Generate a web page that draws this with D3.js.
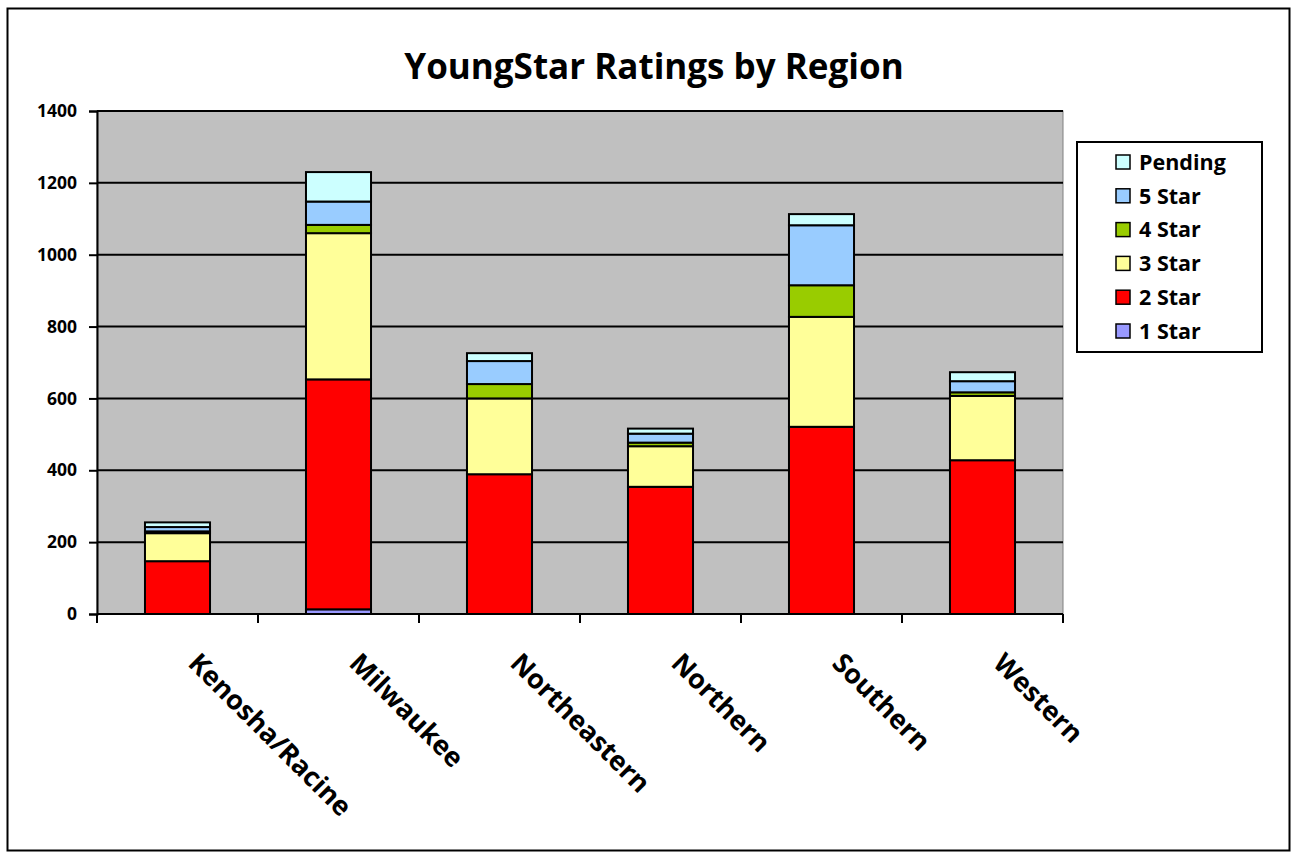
<!DOCTYPE html>
<html><head><meta charset="utf-8">
<script src="https://cdn.jsdelivr.net/npm/d3@7"></script>
<style>
html,body{margin:0;padding:0;background:#fff;}
text{font-family:"Open Sans",sans-serif;font-weight:bold;fill:#000;}
</style></head>
<body><svg id="c" width="1297" height="858"></svg>
<script>
const categories = ["Kenosha/Racine","Milwaukee","Northeastern","Northern","Southern","Western"];
const seriesNames = ["1 Star","2 Star","3 Star","4 Star","5 Star","Pending"];
const star1   = [0, 13, 0, 0, 0, 0];
const star2   = [147, 640, 389, 354, 521, 428];
const star3   = [78, 407, 211, 113, 306, 179];
const star4   = [5, 23, 40, 10, 88, 10];
const star5   = [12, 65, 64, 25, 167, 31];
const pending = [13, 82, 22, 14, 31, 25];
const yTicks = [0,200,400,600,800,1000,1200,1400];
const colors = ["#9999FF","#FF0000","#FFFF99","#99CC00","#99CCFF","#CCFFFF"];

const seriesValues = [star1, star2, star3, star4, star5, pending];
const rows = categories.map((c,i)=>{
  const r = {cat:c};
  seriesNames.forEach((s,j)=>r[s]=seriesValues[j][i]);
  return r;
});

const svg = d3.select("#c");
svg.append("rect").attr("x",7.5).attr("y",8.5).attr("width",1282).attr("height",842)
  .attr("fill","#fff").attr("stroke","#000").attr("stroke-width",2);

const L=97, R=1063, T=111, B=614;
const x = d3.scaleBand().domain(categories).range([L,R]).paddingInner(0.596).paddingOuter(0.298);
const y = d3.scaleLinear().domain([0,1400]).range([B,T]);

svg.append("rect").attr("x",L).attr("y",T).attr("width",R-L).attr("height",B-T)
  .attr("fill","#C0C0C0").attr("stroke","#808080").attr("stroke-width",1);

svg.append("g").selectAll("line").data(yTicks.filter(d=>d>0)).join("line")
  .attr("x1",L).attr("x2",R).attr("y1",d=>y(d)).attr("y2",d=>y(d))
  .attr("stroke","#000").attr("stroke-width",2);

const stack = d3.stack().keys(seriesNames)(rows);
svg.append("g").selectAll("g").data(stack).join("g")
  .attr("fill",(d,i)=>colors[i])
  .selectAll("rect").data(d=>d).join("rect")
  .attr("x",d=>x(d.data.cat)).attr("width",x.bandwidth())
  .attr("y",d=>y(d[1])).attr("height",d=>y(d[0])-y(d[1]))
  .attr("stroke","#000").attr("stroke-width",2);

// y axis
const ya = svg.append("g").attr("transform",`translate(${L},0)`)
  .call(d3.axisLeft(y).tickValues(yTicks).tickFormat(d3.format("d")).tickSize(8).tickPadding(12));
ya.select(".domain").attr("stroke","#000").attr("stroke-width",2);
ya.selectAll(".tick line").attr("stroke","#000").attr("stroke-width",2);
ya.selectAll(".tick text").style("font-size","17.5px").style("font-family","'Open Sans',sans-serif").style("font-weight","bold");

// x axis
const xa = svg.append("g").attr("transform",`translate(0,${B})`);
xa.append("line").attr("x1",L).attr("x2",R).attr("stroke","#000").attr("stroke-width",2);
const bounds = d3.range(categories.length+1).map(i=>L+i*x.step());
xa.selectAll("line.t").data(bounds).join("line").attr("class","t")
  .attr("x1",d=>d).attr("x2",d=>d).attr("y1",0).attr("y2",9).attr("stroke","#000").attr("stroke-width",2);
xa.selectAll("text").data(categories).join("text")
  .attr("transform",d=>`translate(${x(d)+x.bandwidth()/2+16},${44}) rotate(45)`)
  .attr("dy","0.35em").style("font-size","27px").text(d=>d);

// title
svg.append("text").attr("x",654).attr("y",79).attr("text-anchor","middle")
  .style("font-size","35px").text("YoungStar Ratings by Region");

// legend
const lg = svg.append("g");
lg.append("rect").attr("x",1077).attr("y",142).attr("width",185).attr("height",210)
  .attr("fill","#fff").attr("stroke","#000").attr("stroke-width",2);
const legOrder = seriesNames.slice().reverse();
legOrder.forEach((s,i)=>{
  const cy = 162 + i*33.8;
  lg.append("rect").attr("x",1116).attr("y",cy-7).attr("width",14).attr("height",14)
    .attr("fill",colors[seriesNames.indexOf(s)]).attr("stroke","#000").attr("stroke-width",1.5);
  lg.append("text").attr("x",1139).attr("y",cy).attr("dy","0.36em").style("font-size","21.5px").text(s);
});
</script></body></html>
